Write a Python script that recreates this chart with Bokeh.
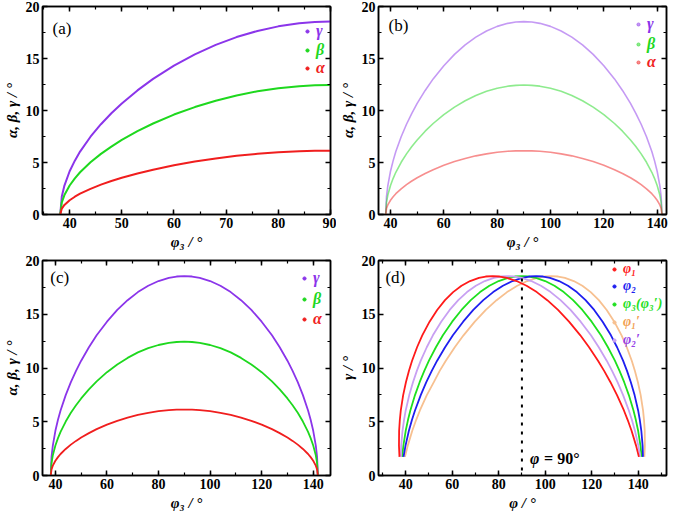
from bokeh.plotting import figure
from bokeh.layouts import gridplot
from bokeh.models import (Range1d, SingleIntervalTicker, LinearAxis, Legend,
                          LegendItem, Label, Span)
from bokeh.embed import file_html
from bokeh.resources import INLINE

# ---------------- data ----------------
phi3 = [38.2, 38.5, 39, 40, 41, 42, 44, 46, 48, 50, 53, 56, 60, 64, 68, 72, 76, 80, 84, 87, 90,
        93, 96, 100, 104, 108, 112, 116, 120, 124, 127, 130, 132, 134, 136, 138, 139, 140, 141,
        141.5, 141.8]
gamma = [0, 1.73, 2.78, 4.16, 5.18, 6.05, 7.48, 8.68, 9.73, 10.68, 11.93, 13.04, 14.31, 15.40,
         16.31, 17.06, 17.65, 18.09, 18.38, 18.51, 18.55, 18.51, 18.38, 18.09, 17.65, 17.06,
         16.31, 15.40, 14.31, 13.04, 11.93, 10.68, 9.73, 8.68, 7.48, 6.05, 5.18, 4.16, 2.78,
         1.73, 0]
beta = [0, 1.16, 1.87, 2.79, 3.48, 4.06, 5.02, 5.83, 6.53, 7.17, 8.01, 8.75, 9.61, 10.33, 10.94,
        11.45, 11.85, 12.14, 12.34, 12.42, 12.45, 12.42, 12.34, 12.14, 11.85, 11.45, 10.94,
        10.33, 9.61, 8.75, 8.01, 7.17, 6.53, 5.83, 5.02, 4.06, 3.48, 2.79, 1.87, 1.16, 0]
alpha = [0, 0.57, 0.92, 1.37, 1.71, 2.00, 2.47, 2.87, 3.22, 3.53, 3.94, 4.31, 4.73, 5.09, 5.39,
         5.64, 5.83, 5.98, 6.08, 6.12, 6.13, 6.12, 6.08, 5.98, 5.83, 5.64, 5.39, 5.09, 4.73,
         4.31, 3.94, 3.53, 3.22, 2.87, 2.47, 2.00, 1.71, 1.37, 0.92, 0.57, 0]
# panel (d): angle positions for the same gamma values
phi1 = [38.2, 37.32, 37.11, 37.17, 37.48, 37.89, 38.91, 40.10, 41.38, 42.74, 44.89, 47.13, 50.27,
        53.53, 56.91, 60.40, 64.00, 67.70, 71.50, 74.41, 77.39, 80.41, 83.50, 87.70, 92.00,
        96.40, 100.91, 105.53, 110.27, 115.13, 118.89, 122.74, 125.38, 128.10, 130.91, 133.89,
        135.48, 137.17, 139.11, 140.32, 141.8]
phi2 = [38.2, 39.07, 39.92, 41.37, 42.71, 44.00, 46.47, 48.86, 51.21, 53.52, 56.94, 60.30, 64.72,
        69.08, 73.38, 77.63, 81.82, 85.97, 90.07, 93.11, 96.12, 99.11, 102.07, 105.97, 109.82,
        113.63, 117.38, 121.08, 124.72, 128.30, 130.94, 133.52, 135.21, 136.86, 138.47, 140.00,
        140.71, 141.37, 141.92, 142.07, 141.8]
phi1p = [38.2, 39.68, 40.89, 42.83, 44.52, 46.11, 49.09, 52.10, 54.62, 57.26, 61.11, 64.87, 69.73,
         74.47, 79.09, 83.60, 88.00, 92.30, 96.50, 99.59, 102.61, 105.59, 108.50, 112.30, 116.00,
         119.60, 123.09, 126.47, 129.73, 132.87, 135.11, 137.26, 138.62, 139.90, 141.09, 142.11,
         142.52, 142.83, 142.89, 142.68, 141.8]
phi2p = [38.2, 37.93, 38.08, 38.63, 39.29, 40.00, 41.53, 43.14, 44.79, 46.48, 49.06, 51.70, 55.28,
         58.92, 62.62, 66.37, 70.18, 74.03, 77.93, 80.89, 83.88, 86.89, 89.93, 94.03, 98.18,
         102.37, 106.62, 110.92, 115.28, 119.70, 123.06, 126.48, 128.79, 131.14, 133.53, 136.00,
         137.29, 138.63, 140.08, 140.93, 141.8]
HALF = 21  # panel (a) shows phi3 from 38.2 to 90 only

FONT = "Liberation Serif"
C_G, C_B, C_A = "#8b35ea", "#1ed81e", "#f01e1e"


def style_axis(ax, labels=True):
    ax.axis_line_width = 1.5
    ax.axis_line_color = "black"
    ax.major_tick_in = 5
    ax.major_tick_out = 0
    ax.minor_tick_in = 3
    ax.minor_tick_out = 0
    ax.major_tick_line_width = 1.5
    ax.minor_tick_line_width = 1.2
    if labels:
        ax.major_label_text_font = FONT
        ax.major_label_text_font_size = "14px"
        ax.major_label_text_font_style = "bold"
        ax.major_label_text_color = "black"
        ax.major_label_standoff = 3
        ax.axis_label_text_font = FONT
        ax.axis_label_text_font_size = "15px"
        ax.axis_label_text_font_style = "bold italic"
        ax.axis_label_text_color = "black"
        ax.axis_label_standoff = 3
    else:
        ax.major_label_text_font_size = "0px"
        ax.major_label_text_color = None
        ax.major_label_standoff = 0
        ax.axis_label = None


def make_fig(w, h, xr, bl, br, bt, bb, xlabel, ylabel, xint):
    p = figure(width=w, height=h, x_range=Range1d(*xr), y_range=Range1d(0, 20),
               output_backend="svg", toolbar_location=None,
               min_border_left=bl, min_border_right=br,
               min_border_top=bt, min_border_bottom=bb)
    p.xgrid.visible = False
    p.ygrid.visible = False
    p.outline_line_color = "black"
    p.outline_line_width = 1.5
    xt = SingleIntervalTicker(interval=xint, num_minor_ticks=2)
    yt = SingleIntervalTicker(interval=5, num_minor_ticks=2)
    p.xaxis.ticker = xt
    p.yaxis.ticker = yt
    p.xaxis.axis_label = xlabel
    p.yaxis.axis_label = ylabel
    style_axis(p.xaxis[0])
    style_axis(p.yaxis[0])
    top = LinearAxis(ticker=xt)
    style_axis(top, labels=False)
    p.add_layout(top, "above")
    right = LinearAxis(ticker=yt)
    style_axis(right, labels=False)
    p.add_layout(right, "right")
    return p


def add_key(p, rend, text, color, fh, left, top_center, size="16px"):
    leg = Legend(items=[LegendItem(label=text, renderers=[rend])],
                 location=(left, fh - top_center - 9),
                 orientation="vertical", padding=0, margin=0, spacing=0,
                 glyph_width=8, glyph_height=18, label_height=18, label_standoff=5,
                 label_text_color=color, label_text_font=FONT,
                 label_text_font_size=size, label_text_font_style="bold italic",
                 background_fill_alpha=0, border_line_alpha=0)
    p.add_layout(leg)


def panel_label(p, text, xr, dx_frac, y):
    p.add_layout(Label(x=xr[0] + (xr[1] - xr[0]) * dx_frac, y=y, text=text,
                       text_font=FONT, text_font_size="17px", text_baseline="middle",
                       text_align="left", text_color="black"))


W1, W2 = 336, 333
H1, H2 = 254, 259
FH1 = H1 - 6 - 40
FH2 = H2 - 6 - 38
XL3 = "φ₃ / °"
YL = "α, β, γ / °"

# ---------------- (a) ----------------
xa = (34.8, 90)
pa = make_fig(W1, H1, xa, 36, 6, 6, 40, XL3, YL, 10)
pa.line(phi3[:HALF], gamma[:HALF], line_color=C_G, line_width=2)
pa.line(phi3[:HALF], beta[:HALF], line_color=C_B, line_width=2)
pa.line(phi3[:HALF], alpha[:HALF], line_color=C_A, line_width=2)
ga = pa.scatter(phi3[:HALF], gamma[:HALF], size=0, color=C_G)
ba = pa.scatter(phi3[:HALF], beta[:HALF], size=0, color=C_B)
aa = pa.scatter(phi3[:HALF], alpha[:HALF], size=0, color=C_A)
add_key(pa, ga, "γ", C_G, FH1, 261, 25)
add_key(pa, ba, "β", C_B, FH1, 261, 44)
add_key(pa, aa, "α", C_A, FH1, 261, 62)
panel_label(pa, "(a)", xa, 0.035, 17.9)

# ---------------- (b) ----------------
xb = (35.5, 143.5)
pb = make_fig(W2, H1, xb, 38, 3, 6, 40, XL3, YL, 20)
for yv, c in ((gamma, C_G), (beta, C_B), (alpha, C_A)):
    pb.line(phi3, yv, line_color=c, line_width=1.6, line_alpha=0.5)
gb = pb.scatter(phi3, gamma, size=0, color=C_G, alpha=0.5)
bb_ = pb.scatter(phi3, beta, size=0, color=C_B, alpha=0.5)
ab = pb.scatter(phi3, alpha, size=0, color=C_A, alpha=0.5)
add_key(pb, gb, "γ", C_G, FH1, 256, 18)
add_key(pb, bb_, "β", C_B, FH1, 256, 38)
add_key(pb, ab, "α", C_A, FH1, 256, 56)
panel_label(pb, "(b)", xb, 0.035, 18.2)

# ---------------- (c) ----------------
xc = (35, 146.7)
pc = make_fig(W1, H2, xc, 36, 6, 6, 38, XL3, YL, 20)
for yv, c in ((gamma, C_G), (beta, C_B), (alpha, C_A)):
    pc.line(phi3, yv, line_color=c, line_width=1.8)
gc = pc.scatter(phi3, gamma, size=0, color=C_G)
bc = pc.scatter(phi3, beta, size=0, color=C_B)
ac = pc.scatter(phi3, alpha, size=0, color=C_A)
add_key(pc, gc, "γ", C_G, FH2, 258, 18)
add_key(pc, bc, "β", C_B, FH2, 258, 39)
add_key(pc, ac, "α", C_A, FH2, 258, 59)
panel_label(pc, "(c)", xc, 0.027, 18.4)

# ---------------- (d) ----------------
xd = (28.3, 152.2)
pd = make_fig(W2, H2, xd, 38, 3, 6, 38, "φ / °", "γ / °", 20)
pd.add_layout(Span(location=90, dimension="height", line_color="black",
                   line_dash="3 6", line_width=2))
series_d = [
    (phi1, "#ff1a1a", "#ff1a1a", "φ₁"),
    (phi2, "#1e1ef0", "#1e1ef0", "φ₂"),
    (phi3, "#1ee01e", "#1ee01e", "φ₃(φ₃′)"),
    (phi1p, "#f7c090", "#f2a050", "φ₁′"),
    (phi2p, "#c8a0f2", "#9440e8", "φ₂′"),
]
gd = gamma[1:-1]
order = [3, 2, 1, 4, 0]
for i in order:
    xs, lc, tc, lab = series_d[i]
    pd.line(xs[1:-1], gd, line_color=lc, line_width=1.8)
tops = [9, 26, 44, 62, 80]
for (xs, lc, tc, lab), t in zip(series_d, tops):
    r = pd.scatter(xs[1:-1], gd, size=0, color=lc)
    add_key(pd, r, lab, tc, FH2, 232, t, size="14px")
panel_label(pd, "(d)", xd, 0.024, 18.4)
pd.add_layout(Label(x=93.5, y=1.6, text="φ", text_font=FONT, text_font_size="16px",
                    text_font_style="bold italic", text_baseline="middle", text_color="black"))
pd.add_layout(Label(x=93.5, y=1.6, x_offset=14, text="= 90°", text_font=FONT,
                    text_font_size="16px", text_font_style="bold", text_baseline="middle",
                    text_color="black"))

grid = gridplot([[pa, pb], [pc, pd]], toolbar_location=None)

open("out.html", "w").write(file_html(grid, INLINE))
